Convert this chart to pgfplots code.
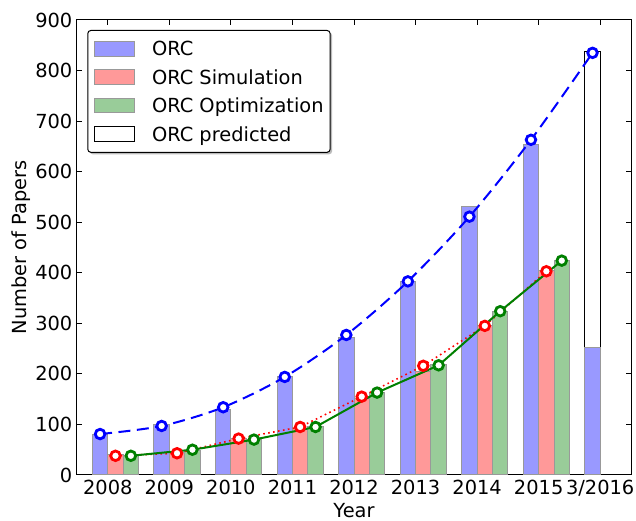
\documentclass[border=0pt]{standalone}
\usepackage{pgfplots}
\pgfplotsset{compat=1.18}
\usepackage{fontspec}
\setmainfont{DejaVu Sans}
\usetikzlibrary{shadows}
\makeatletter
\tikzset{no preactions/.code={\let\tikz@preactions\pgfutil@empty}}
\makeatother
\newcommand\fsz{\fontsize{19.4pt}{23pt}\selectfont}
\definecolor{barblue}{RGB}{153,153,255}
\definecolor{barred}{RGB}{255,153,153}
\definecolor{bargreen}{RGB}{153,204,153}
\definecolor{baredge}{RGB}{153,153,153}
\definecolor{mgreen}{RGB}{0,128,0}
\pgfplotsset{
  barleg/.style={legend image code/.code={
      \draw[no preactions,##1,sharp corners,line width=1pt] (0pt,-7.3pt) rectangle (39.3pt,7.3pt);
      \path[no preactions] (56.7pt,0pt);}},
  mybar/.style={ybar, bar width=0.25, line width=1pt, draw=baredge},
}
\begin{document}
\begin{tikzpicture}[font=\fsz]
\begin{axis}[
  at={(0,0)}, anchor=south west,
  scale only axis, width=554pt, height=455pt,
  xmin=-0.5, xmax=8.5, ymin=0, ymax=900,
  xtick={0,1,2,3,4,5,6,7,8},
  xticklabels={2008,2009,2010,2011,2012,2013,2014,2015,3/2016},
  ytick={0,100,200,300,400,500,600,700,800,900},
  tick align=inside, major tick length=5pt,
  tick style={black, line width=1pt},
  axis line style={black, line width=1pt},
  /pgf/number format/assume math mode=true,
  tick label style={font=\fsz},
  every x tick label/.append style={inner sep=0pt, yshift=-5pt},
  every y tick label/.append style={inner sep=0pt, xshift=-4.5pt},
  every axis x label/.style={at={(axis description cs:0.5,-0.0934)}, anchor=base, font=\fsz},
  every axis y label/.style={at={(axis description cs:-0.0903,0.5)}, anchor=base, rotate=90, font=\fsz},
  xlabel={Year}, ylabel={Number of Papers},
  legend style={at={(axis description cs:0,1)}, anchor=north west,
    xshift=10.3pt, yshift=-10pt,
    draw=black, line width=1pt, fill=white, rounded corners=3pt,
    drop shadow={shadow xshift=2pt, shadow yshift=-2pt, fill=black!45, opacity=0.6},
    inner xsep=6.5pt, inner ysep=10.5pt, row sep=12.8pt, column sep=0pt,
    /tikz/every even column/.style={}, /tikz/every odd column/.style={},
    nodes={inner sep=0pt, text height=14.1pt, text depth=0pt, font=\fsz},
    cells={anchor=west}},
]
% predicted (drawn first, behind)
\addplot[forget plot, mybar, bar shift=-0.125, fill=white, draw=black] coordinates {(8,838)};
% ORC
\addplot[mybar, bar shift=-0.125, fill=barblue, barleg] coordinates {
  (0,81) (1,100) (2,130) (3,194) (4,271) (5,382) (6,531) (7,653) (8,252)};
% ORC Simulation
\addplot[mybar, bar shift=0.125, fill=barred, barleg] coordinates {
  (0,40) (1,44) (2,73) (3,91) (4,151) (5,204) (6,296) (7,405)};
% ORC Optimization
\addplot[mybar, bar shift=0.375, fill=bargreen, barleg] coordinates {
  (0,38) (1,48) (2,71) (3,96) (4,164) (5,218) (6,324) (7,425)};
% lines
\addplot[forget plot, blue, line width=2pt, dash pattern=on 12pt off 6.5pt, smooth,
  mark=*, mark size=4.8pt, mark options={solid, fill=white, draw=blue, line width=2.8pt}]
  coordinates {(-0.125,81) (0.875,97) (1.875,134) (2.875,194) (3.875,277) (4.875,383) (5.875,511) (6.875,663) (7.875,835)};
\addplot[forget plot, red, line width=1.6pt, dash pattern=on 1.6pt off 3.4pt,
  mark=*, mark size=4.8pt, mark options={solid, fill=white, draw=red, line width=2.8pt}]
  coordinates {(0.125,38) (1.125,43) (2.125,72) (3.125,95) (4.125,155) (5.125,216) (6.125,295) (7.125,403)};
\addplot[forget plot, mgreen, line width=2pt,
  mark=*, mark size=4.8pt, mark options={solid, fill=white, draw=mgreen, line width=2.8pt}]
  coordinates {(0.375,38) (1.375,50) (2.375,70) (3.375,95) (4.375,163) (5.375,217) (6.375,324) (7.375,424)};
\addlegendimage{mybar, fill=white, draw=black, barleg}
\legend{ORC, ORC Simulation, ORC Optimization, ORC predicted}
\end{axis}
\pgfresetboundingbox
\useasboundingbox (-77pt,-46pt) rectangle (559pt,475pt);
\end{tikzpicture}
\end{document}
